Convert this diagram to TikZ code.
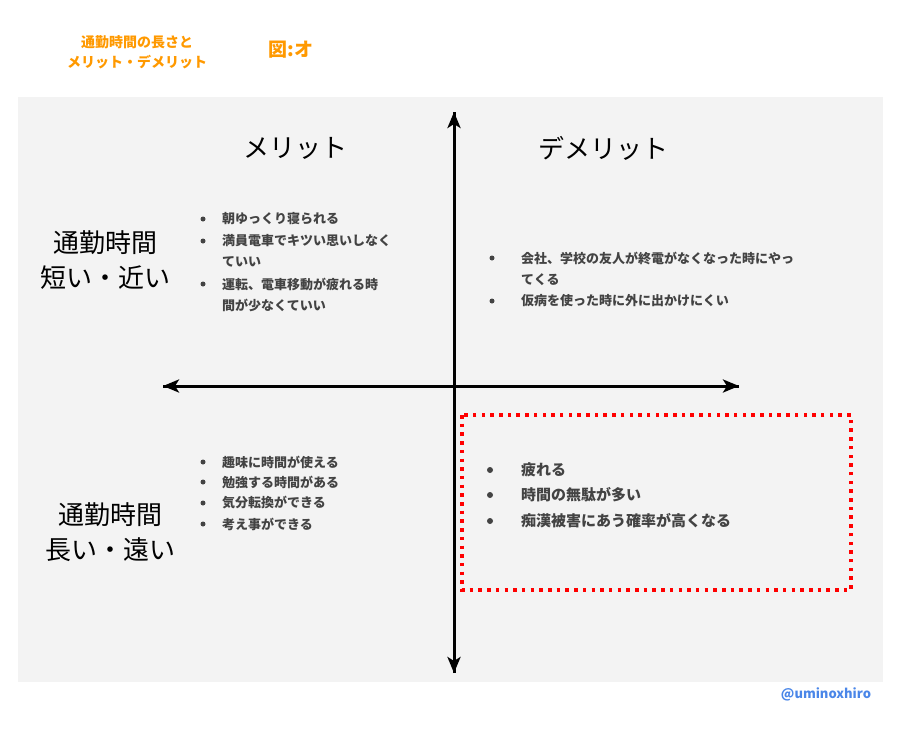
\documentclass[tikz,border=0pt]{standalone}
\usepackage{fontspec}
\setmainfont{Noto Sans CJK JP}
\usetikzlibrary{arrows.meta}
\definecolor{bg}{HTML}{F3F3F3}
\definecolor{txt}{HTML}{434343}
\definecolor{org}{HTML}{FF9900}
\definecolor{blu}{HTML}{4A86E8}
\begin{document}
\begin{tikzpicture}[x=1pt,y=-1pt,
  item/.style={anchor=west,text=txt,font=\fontsize{13}{15}\selectfont\bfseries,inner sep=0},
  big/.style={font=\fontsize{26}{30}\selectfont,inner sep=0},
  ax/.style={line width=3pt,-{Stealth[length=16pt,width=13pt,inset=4pt]}}]
\useasboundingbox (0,0) rectangle (901,736);
\fill[bg] (18,97) rectangle (883,682);
\coordinate (T) at (454,112); \coordinate (B) at (454,673);
\coordinate (L) at (163,386); \coordinate (R) at (739,386);
\draw[ax] (B) -- (T); \draw[ax] (T) -- (B);
\draw[ax] (R) -- (L); \draw[ax] (L) -- (R);
\draw[red,line width=3.5pt,dash pattern=on 3.5pt off 5.2pt] (462,415) rectangle (851,590);
\node[text=org,font=\fontsize{14}{16}\selectfont\bfseries,inner sep=0] (t1) at (137,42) {通勤時間の長さと};
\node[text=org,font=\fontsize{14}{16}\selectfont\bfseries,inner sep=0] (t2) at (137,62) {メリット・デメリット};
\node[text=org,font=\fontsize{19}{22}\selectfont\bfseries,inner sep=0] (t3) at (291,50) {図:オ};
\node[big] (m) at (295,148) {メリット};
\node[big] (d) at (603,148) {デメリット};
\node[big] (a1) at (105,243) {通勤時間};
\node[big] (a2) at (105,278) {短い・近い};
\node[big] (b1) at (110,515) {通勤時間};
\node[big] (b2) at (110,550) {長い・遠い};
\foreach \y/\s in {219/朝ゆっくり寝られる,241/満員電車でキツい思いしなく,262/ていい,284/運転、電車移動が疲れる時,305/間が少なくていい}
  \node[item] at (222,\y) {\s};
\foreach \y in {219,241,284} \fill[txt] (203,\y) circle (2.5);
\foreach \y/\s in {258/会社、学校の友人が終電がなくなった時にやっ,280/てくる,301/仮病を使った時に外に出かけにくい}
  \node[item] at (521,\y) {\s};
\foreach \y in {258,301} \fill[txt] (492,\y) circle (2.5);
\foreach \y/\s in {462/趣味に時間が使える,482/勉強する時間がある,503/気分転換ができる,524/考え事ができる}
  {\node[item] at (222,\y) {\s}; \fill[txt] (203,\y) circle (2.5);}
\foreach \y/\s in {470/疲れる,495/時間の無駄が多い,521/痴漢被害にあう確率が高くなる}
  {\node[item,font=\fontsize{15}{17}\selectfont\bfseries] at (521,\y) {\s}; \fill[txt] (490,\y) circle (3);}
\node[text=blu,font=\fontsize{13}{15}\selectfont\bfseries,inner sep=0] (u) at (826,694) {@uminoxhiro};
\end{tikzpicture}
\end{document}
